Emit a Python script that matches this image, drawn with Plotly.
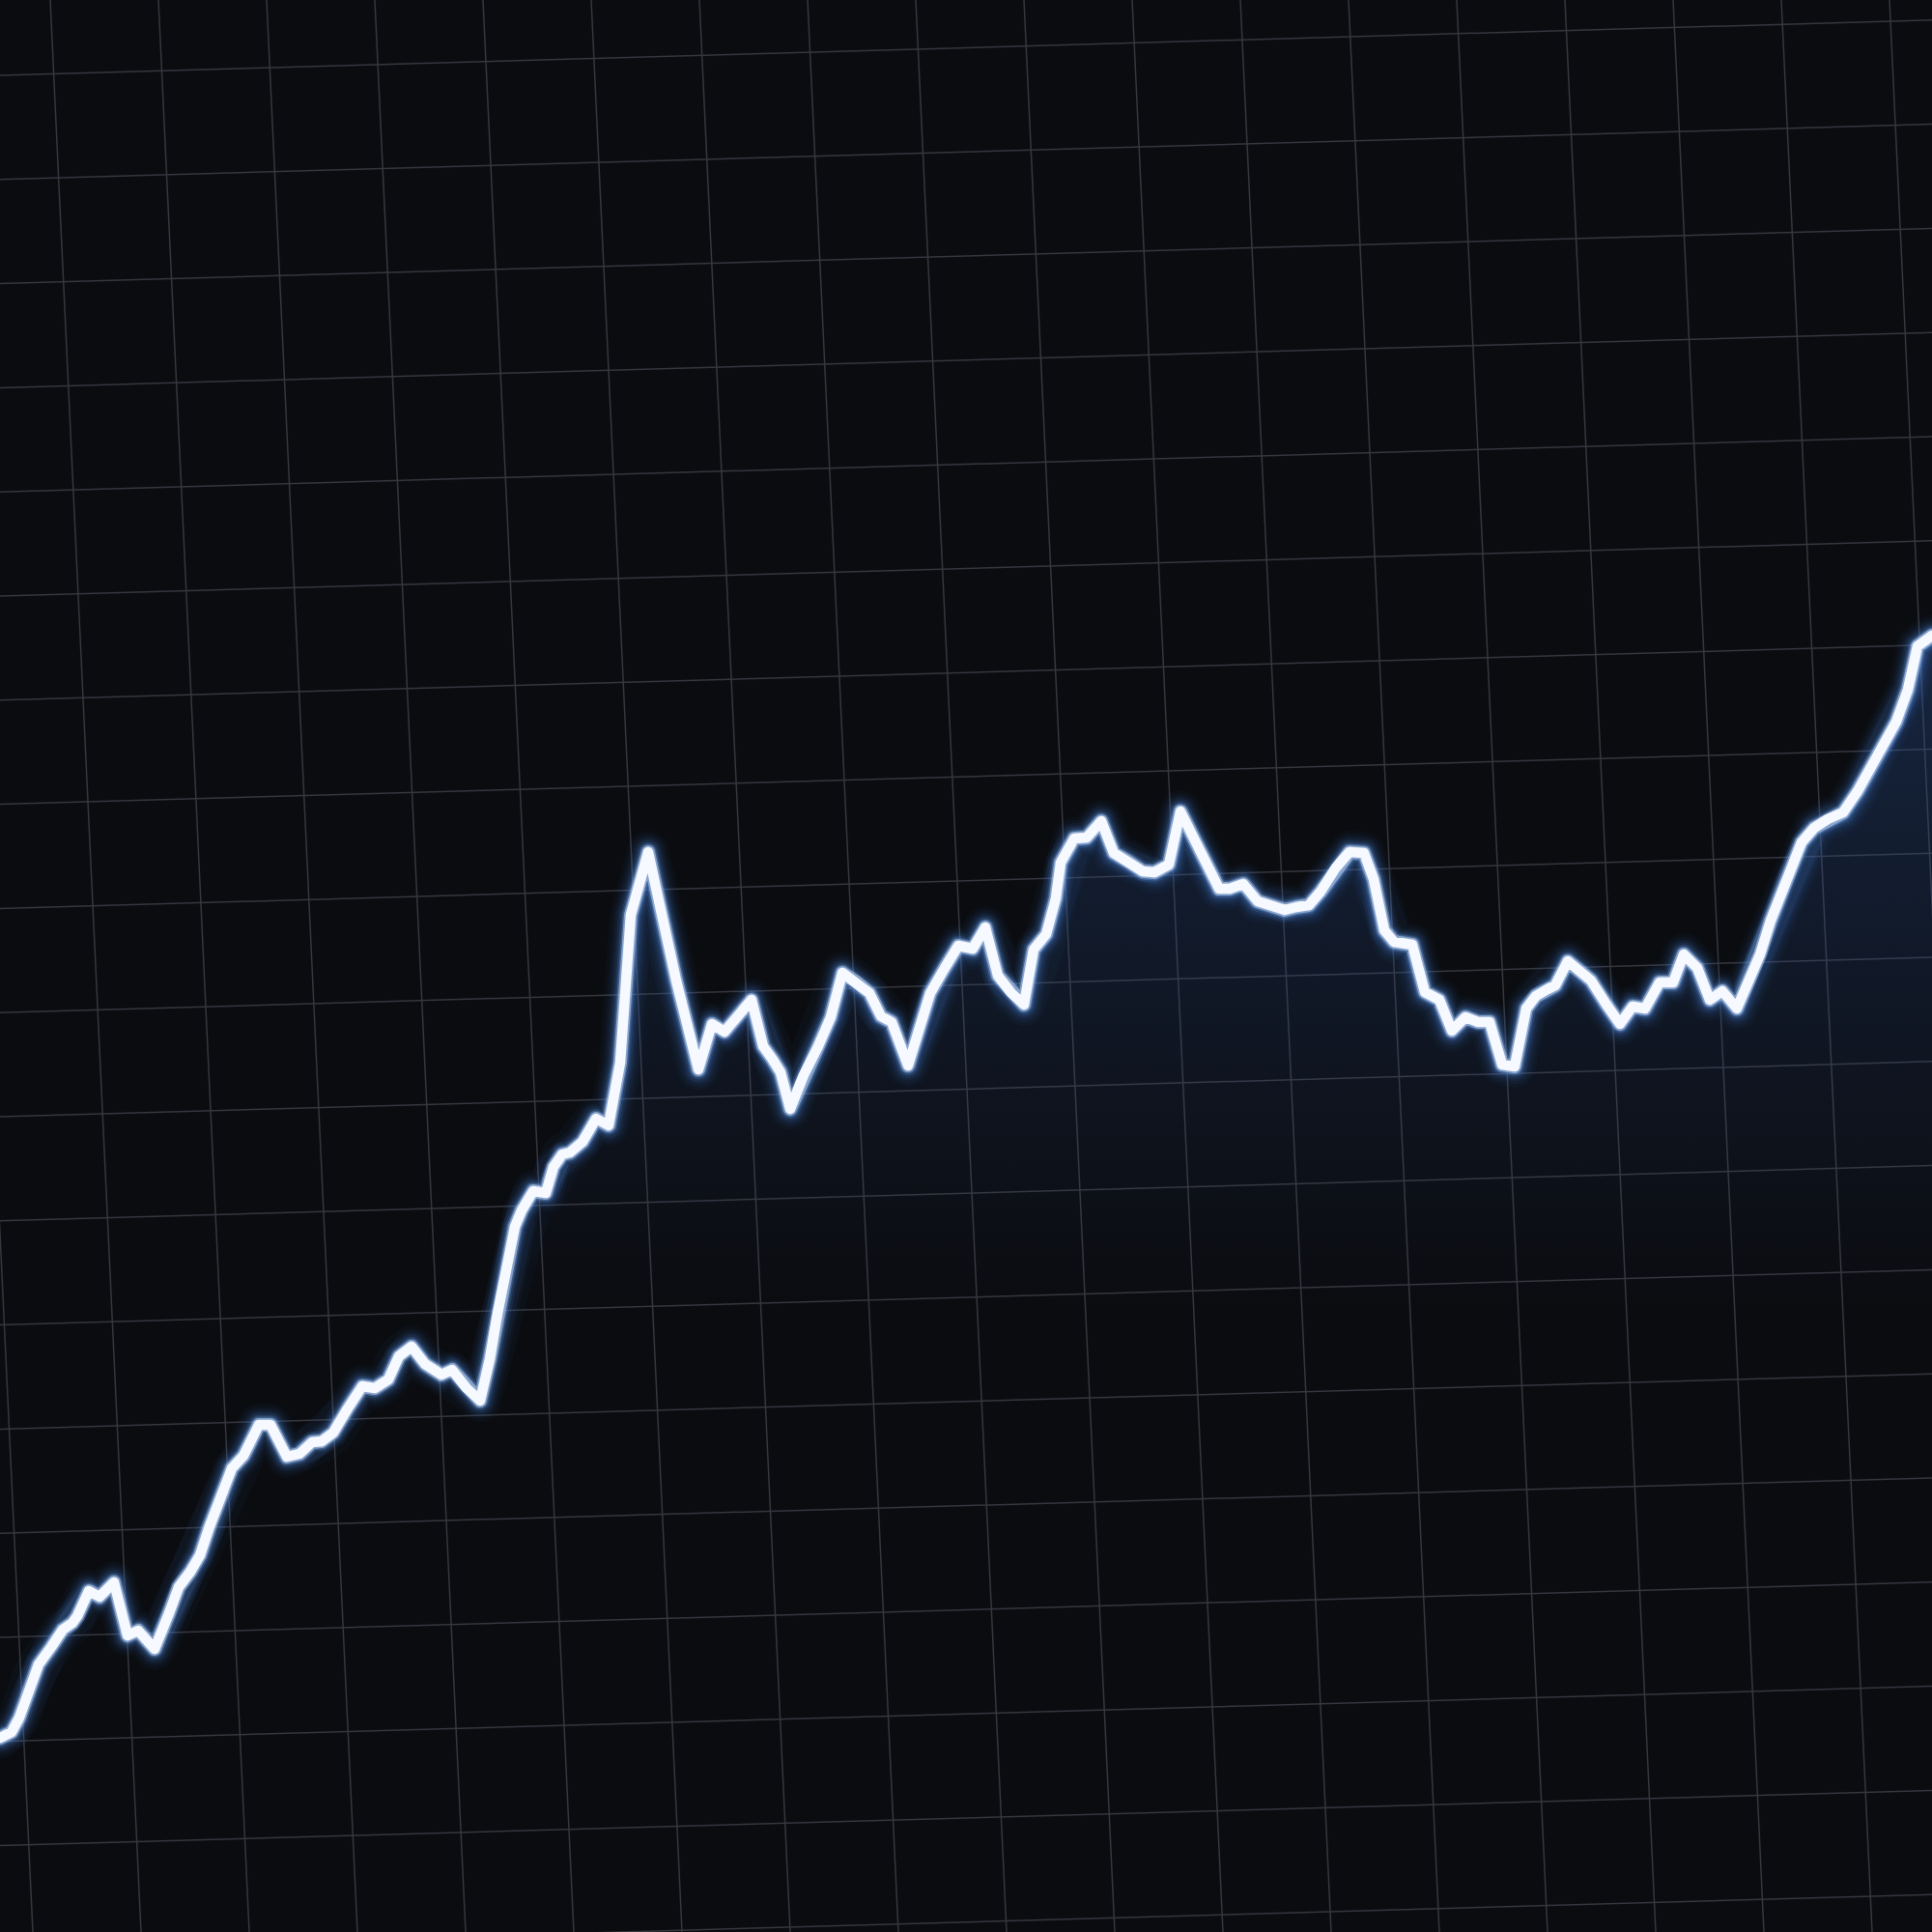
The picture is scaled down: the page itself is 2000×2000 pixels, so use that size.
import plotly.graph_objects as go

t = [0, 12, 20, 35, 40, 53, 65, 75, 80, 92, 103, 118, 132, 143, 160, 175, 185, 197, 207, 217,
     230, 240, 252, 268, 280, 297, 310, 323, 333, 345, 360, 375, 388, 402, 413, 426, 440, 457, 468, 483,
     497, 507, 515, 525, 533, 540, 552, 565, 573, 582, 590, 603, 617, 630, 637, 642, 653, 671, 700, 723,
     737, 750, 778, 790, 800, 808, 818, 832, 847, 860, 872, 887, 900, 912, 923, 940, 952, 963, 978, 992,
     1007, 1020, 1033, 1047, 1060, 1070, 1083, 1093, 1098, 1112, 1125, 1140, 1153, 1168, 1183, 1195, 1210, 1222, 1237, 1250,
     1262, 1273, 1287, 1302, 1317, 1330, 1342, 1355, 1367, 1383, 1397, 1412, 1422, 1433, 1443, 1462, 1475, 1490, 1503, 1517,
     1530, 1542, 1555, 1568, 1580, 1590, 1602, 1610, 1623, 1637, 1647, 1663, 1677, 1690, 1703, 1718, 1732, 1743, 1757, 1770,
     1783, 1798, 1822, 1833, 1850, 1865, 1878, 1892, 1908, 1923, 1943, 1963, 1975, 1985, 2000]

level = [1799, 1793, 1778, 1733, 1723, 1705, 1687, 1680, 1673, 1647, 1653, 1638, 1693, 1688, 1707, 1670, 1643, 1627, 1610, 1580,
         1543, 1520, 1507, 1475, 1475, 1508, 1505, 1493, 1492, 1483, 1458, 1435, 1437, 1428, 1404, 1394, 1412, 1423, 1418, 1437,
         1450, 1407, 1360, 1307, 1270, 1253, 1233, 1235, 1208, 1195, 1193, 1182, 1158, 1165, 1127, 1100, 947, 882, 1015, 1107,
         1060, 1068, 1035, 1083, 1097, 1110, 1148, 1113, 1083, 1053, 1007, 1017, 1028, 1052, 1058, 1103, 1068, 1028, 1002, 979,
         982, 960, 1010, 1028, 1040, 983, 967, 930, 893, 868, 867, 850, 883, 892, 902, 903, 895, 840, 872, 900,
         920, 920, 915, 933, 938, 942, 939, 937, 923, 898, 882, 883, 910, 963, 975, 978, 1027, 1035, 1067, 1053,
         1058, 1058, 1102, 1104, 1044, 1031, 1024, 1020, 995, 1008, 1015, 1040, 1060, 1042, 1044, 1017, 1017, 988, 1002, 1035,
         1026, 1044, 988, 953, 908, 872, 857, 848, 841, 819, 783, 747, 714, 669, 658]

W = 2000
BG = "#0b0c10"
GRID = "#36373f"

fig = go.Figure()

# invisible floor so the area can be filled down to the bottom edge
fig.add_trace(go.Scatter(x=[0, W], y=[W, W], mode="lines", line=dict(width=0),
                         hoverinfo="skip", showlegend=False))
fig.add_trace(go.Scatter(
    x=t, y=level, mode="lines", line=dict(width=0), fill="tonexty",
    fillgradient=dict(type="vertical", start=650, stop=1350,
                      colorscale=[[0, "rgba(42,82,148,0.36)"], [1, "rgba(42,82,148,0)"]]),
    hoverinfo="skip", showlegend=False))

# soft blue glow, widest first
for w, c in [(44, "rgba(60,115,210,0.04)"), (37, "rgba(60,115,210,0.06)"),
             (31, "rgba(70,128,220,0.08)"), (26, "rgba(80,140,230,0.11)"),
             (21, "rgba(95,152,238,0.17)"), (17, "rgba(130,178,245,0.3)"),
             (14, "rgba(195,218,255,0.55)")]:
    fig.add_trace(go.Scatter(x=t, y=level, mode="lines", line=dict(width=w, color=c),
                             hoverinfo="skip", showlegend=False))

fig.add_trace(go.Scatter(x=t, y=level, mode="lines", line=dict(width=10.5, color="#f6f9ff"),
                         showlegend=False))

# slightly skewed grid, as in the picture
shapes = []
for k in range(-2, 19):
    x0 = 52 + 112 * k
    shapes.append(dict(type="line", xref="x", yref="y", x0=x0, y0=0, x1=x0 + 0.047 * W, y1=W,
                       line=dict(color=GRID, width=1.5), layer="below"))
for j in range(-1, 20):
    y0 = 78 + 107.8 * j
    shapes.append(dict(type="line", xref="x", yref="y", x0=0, y0=y0, x1=W, y1=y0 - 0.0286 * W,
                       line=dict(color=GRID, width=1.5), layer="below"))

fig.update_layout(
    width=W, height=W,
    margin=dict(l=0, r=0, t=0, b=0),
    paper_bgcolor=BG, plot_bgcolor=BG,
    shapes=shapes,
    xaxis=dict(range=[0, W], visible=False, fixedrange=True),
    yaxis=dict(range=[W, 0], visible=False, fixedrange=True),
)

page_fix = (
    "document.body.style.margin='0';"
    "document.body.style.background='%s';"
    "document.querySelectorAll('.js-line').forEach(function(p){"
    "p.style.strokeLinejoin='round';p.style.strokeLinecap='round';});" % BG
)

fig.write_html("out.html", post_script=page_fix, config={"displayModeBar": False})
